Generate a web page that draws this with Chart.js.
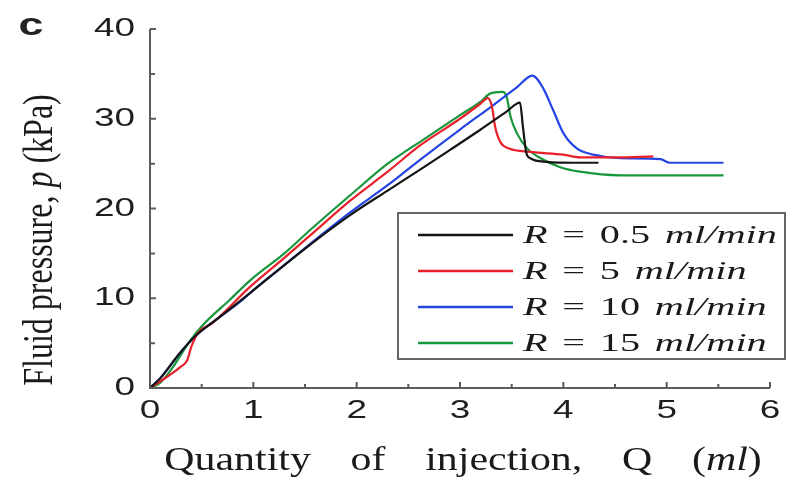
<!DOCTYPE html>
<html>
<head>
<meta charset="utf-8">
<script src="https://cdn.jsdelivr.net/npm/chart.js@4/dist/chart.umd.min.js"></script>
<style>
  html, body { margin: 0; background: #fff; }
</style>
</head>
<body>
<canvas id="chart" width="791" height="483"></canvas>
<script>
// Injection rates (ml/min) and line colours
const rates = ['0.5', '5', '10', '15'];
const colors = ['#141414', '#e8202a', '#2444e4', '#18963c'];

// R = 0.5 ml/min
const q05 = [0, 0.1, 0.29, 0.45, 0.65, 0.97, 1.3, 1.62, 1.94, 2.3, 2.61, 2.9, 3.2, 3.45, 3.58, 3.61, 3.64, 3.68, 3.84, 4.1, 4.34];
const p05 = [0, 1.1, 3.9, 5.9, 7.7, 10.6, 13.7, 16.6, 19.3, 22.0, 24.3, 26.5, 28.8, 30.8, 31.8, 29.0, 26.3, 25.6, 25.2, 25.1, 25.1];

// R = 5 ml/min
const q5 = [0, 0.19, 0.29, 0.36, 0.40, 0.47, 0.60, 0.97, 1.3, 1.55, 1.94, 2.3, 2.61, 3.0, 3.19, 3.27, 3.31, 3.34, 3.39, 3.47, 3.68, 4.0, 4.16, 4.5, 4.87];
const p5 = [0, 1.45, 2.3, 3.1, 4.6, 6.2, 7.2, 11.3, 14.5, 17.0, 20.9, 24.1, 27.0, 30.0, 31.6, 32.3, 31.3, 29.1, 27.4, 26.7, 26.3, 26.0, 25.7, 25.7, 25.8];

// R = 10 ml/min
const q10 = [0, 0.1, 0.29, 0.45, 0.65, 0.87, 0.97, 1.3, 1.62, 1.94, 2.3, 2.61, 3.0, 3.32, 3.55, 3.70, 3.80, 3.90, 4.0, 4.13, 4.29, 4.55, 4.94, 5.03, 5.55];
const p10 = [0, 1.1, 3.9, 5.9, 7.7, 9.6, 10.6, 13.7, 16.7, 19.6, 22.6, 25.4, 28.8, 31.5, 33.5, 34.8, 33.5, 31.0, 28.4, 26.7, 26.0, 25.6, 25.5, 25.1, 25.1];

// R = 15 ml/min
const q15 = [0, 0.1, 0.22, 0.39, 0.51, 0.77, 0.97, 1.3, 1.55, 1.94, 2.3, 2.49, 2.61, 3.0, 3.2, 3.29, 3.41, 3.45, 3.49, 3.55, 3.65, 3.78, 3.97, 4.16, 4.55, 5.55];
const p15 = [0, 0.6, 2.3, 5.3, 7.0, 9.8, 12.0, 15.0, 17.6, 21.5, 25.0, 26.5, 27.4, 30.4, 31.9, 32.8, 33.0, 32.5, 30.2, 28.4, 26.7, 25.6, 24.6, 24.1, 23.7, 23.7];

const xTicks = [0, 1, 2, 3, 4, 5, 6];
const yTicks = [0, 10, 20, 30, 40];

const series = [[q05, p05], [q5, p5], [q10, p10], [q15, p15]];

// draw a run of text pieces (some italic) stretched horizontally
function fontOf(p, o) {
  return (p.it ? 'italic ' : '') + (p.b ? 'bold ' : '') + o.size + 'px ' + o.family;
}
function runWidth(ctx, parts, o) {
  let w = 0;
  parts.forEach(p => {
    ctx.font = fontOf(p, o);
    p.t.split(/( )/).forEach(ch => {
      if (ch === ' ') w += ctx.measureText(' ').width + (o.ws || 0);
      else if (ch) w += ctx.measureText(ch).width;
    });
  });
  return w;
}
function drawText(ctx, parts, x, y, o) {
  ctx.save();
  ctx.translate(x, y);
  ctx.scale(o.sx || 1, 1);
  if (o.rotate) ctx.rotate(-Math.PI / 2);
  ctx.fillStyle = o.color || '#1a1a1a';
  ctx.textBaseline = 'middle';
  ctx.textAlign = 'left';
  const w = runWidth(ctx, parts, o);
  let cx = o.align === 'right' ? -w : o.align === 'center' ? -w / 2 : 0;
  parts.forEach(p => {
    ctx.font = fontOf(p, o);
    p.t.split(/( )/).forEach(ch => {
      if (ch === ' ') cx += ctx.measureText(' ').width + (o.ws || 0);
      else if (ch) { ctx.fillText(ch, cx, 0); cx += ctx.measureText(ch).width; }
    });
  });
  ctx.restore();
}

const axesPlugin = {
  id: 'axesPlugin',
  afterDraw(chart) {
    const ctx = chart.ctx;
    const xs = chart.scales.x, ys = chart.scales.y;
    const { left, right, top, bottom } = chart.chartArea;

    ctx.save();
    ctx.strokeStyle = '#5c5c5c';
    ctx.lineWidth = 2;
    ctx.beginPath();
    ctx.moveTo(left, top);
    ctx.lineTo(left, bottom);
    ctx.lineTo(right, bottom);
    ctx.stroke();

    // inward ticks, major and minor
    ctx.beginPath();
    xTicks.forEach((v, i) => {
      const px = xs.getPixelForValue(v);
      ctx.moveTo(px, bottom); ctx.lineTo(px, bottom - 6);
      if (i < xTicks.length - 1) {
        const mx = xs.getPixelForValue((v + xTicks[i + 1]) / 2);
        ctx.moveTo(mx, bottom); ctx.lineTo(mx, bottom - 4);
      }
    });
    yTicks.forEach((v, i) => {
      const py = ys.getPixelForValue(v);
      ctx.moveTo(left, py); ctx.lineTo(left + 6, py);
      if (i < yTicks.length - 1) {
        const my = ys.getPixelForValue((v + yTicks[i + 1]) / 2);
        ctx.moveTo(left, my); ctx.lineTo(left + 5, my);
      }
    });
    ctx.stroke();
    ctx.restore();

    const tickFont = { size: 26, family: '"Liberation Sans", Arial, sans-serif', sx: 1.42, color: '#1e1e1e' };
    xTicks.forEach(v => {
      drawText(ctx, [{ t: String(v) }], xs.getPixelForValue(v), bottom + 23, Object.assign({ align: 'center' }, tickFont));
    });
    yTicks.forEach(v => {
      drawText(ctx, [{ t: String(v) }], left - 15, ys.getPixelForValue(v), Object.assign({ align: 'right' }, tickFont));
    });

    const serif = '"Liberation Serif", "Times New Roman", serif';
    // axis titles
    drawText(ctx, [{ t: 'Quantity of injection, Q (' }, { t: 'ml', it: true }, { t: ')' }],
      (left + right) / 2 + 3, 461, { size: 33, family: serif, sx: 1.27, ws: 23, align: 'center' });
    drawText(ctx, [{ t: 'Fluid pressure, ' }, { t: 'p', it: true }, { t: ' (kPa)' }],
      41, 240, { size: 32, family: serif, sx: 1.3, align: 'center', rotate: true });

    // panel letter
    drawText(ctx, [{ t: 'c', b: true }], 31, 26, { size: 32, family: '"Liberation Sans", Arial, sans-serif', sx: 1.4, align: 'center', color: '#222' });

    // legend box
    const bx = 398, by = 213, bw = 387, bh = 146;
    ctx.save();
    ctx.fillStyle = '#fff';
    ctx.fillRect(bx, by, bw, bh);
    ctx.strokeStyle = '#666';
    ctx.lineWidth = 2;
    ctx.strokeRect(bx, by, bw, bh);
    chart.data.datasets.forEach((ds, i) => {
      const ry = by + 22 + i * 36;
      ctx.strokeStyle = ds.borderColor;
      ctx.lineWidth = 2.5;
      ctx.beginPath();
      ctx.moveTo(bx + 20, ry); ctx.lineTo(bx + 115, ry);
      ctx.stroke();
      drawText(ctx, [{ t: 'R', it: true }, { t: ' = ' + rates[i] + ' ' }, { t: 'ml/min', it: true }],
        bx + 125, ry + 1, { size: 26, family: serif, sx: 1.55, ws: 3, align: 'left' });
    });
    ctx.restore();
  }
};

new Chart(document.getElementById('chart'), {
  type: 'scatter',
  data: {
    datasets: series.map((s, i) => ({
      label: 'R = ' + rates[i] + ' ml/min',
      data: s[0].map((q, k) => ({ x: q, y: s[1][k] })),
      showLine: true,
      borderColor: colors[i],
      borderWidth: 2.2,
      pointRadius: 0,
      cubicInterpolationMode: 'monotone'
    }))
  },
  options: {
    responsive: false,
    animation: false,
    devicePixelRatio: 1,
    layout: { padding: { left: 150, top: 29, right: 21, bottom: 95 } },
    plugins: { legend: { display: false }, tooltip: { enabled: false } },
    scales: {
      x: { type: 'linear', min: 0, max: 6, display: false },
      y: { type: 'linear', min: 0, max: 40, display: false }
    }
  },
  plugins: [axesPlugin]
});
</script>
</body>
</html>
